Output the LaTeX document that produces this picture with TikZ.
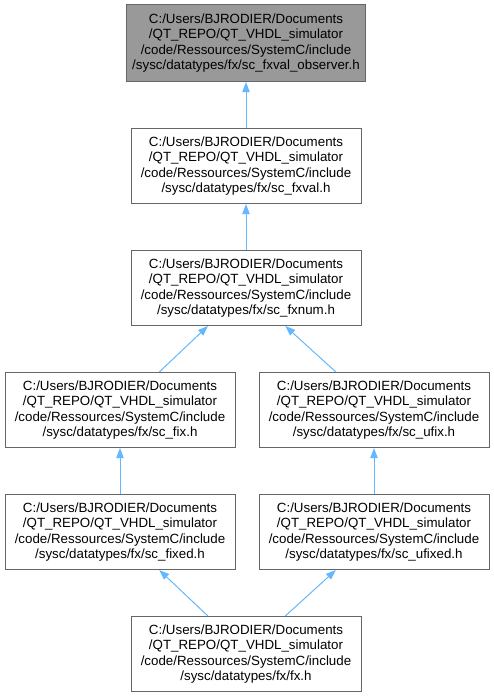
\documentclass[tikz,border=0pt]{standalone}
\usepackage{fontspec}
\setmainfont{Liberation Sans}
\usetikzlibrary{arrows.meta, positioning, calc}
\definecolor{doxyedge}{HTML}{63B8FF}
\definecolor{doxyborder}{HTML}{666666}
\definecolor{doxycur}{HTML}{999999}
\tikzset{
  filebox/.style={draw=doxyborder, fill=white, align=center, line width=0.75pt,
                  font=\fontsize{10}{11.5}\selectfont, inner xsep=4.5pt,
                  minimum width=172.5pt, minimum height=56.25pt},
  curbox/.style={filebox, fill=doxycur, minimum height=57.75pt},
  incl/.style={{Triangle[length=7.5pt, width=5.5pt]}-, line width=0.75pt, draw=doxyedge},
}

\begin{document}
\begin{tikzpicture}[node distance=34.5pt and 17.25pt]
  \useasboundingbox (0,0) rectangle (369.75pt,-524.25pt);
  \node[curbox] (obs) at (184.5pt,-32.25pt)
    {C:/Users/BJRODIER/Documents\\/QT\_REPO/QT\_VHDL\_simulator\\/code/Ressources/SystemC/include\\/sysc/datatypes/fx/sc\_fxval\_observer.h};
  \node[filebox, below=of obs] (fxval)
    {C:/Users/BJRODIER/Documents\\/QT\_REPO/QT\_VHDL\_simulator\\/code/Ressources/SystemC/include\\/sysc/datatypes/fx/sc\_fxval.h};
  \node[filebox, below=of fxval] (fxnum)
    {C:/Users/BJRODIER/Documents\\/QT\_REPO/QT\_VHDL\_simulator\\/code/Ressources/SystemC/include\\/sysc/datatypes/fx/sc\_fxnum.h};
  \node[filebox, below=of fxnum, xshift=-94.5pt] (fix)
    {C:/Users/BJRODIER/Documents\\/QT\_REPO/QT\_VHDL\_simulator\\/code/Ressources/SystemC/include\\/sysc/datatypes/fx/sc\_fix.h};
  \node[filebox, right=of fix] (ufix)
    {C:/Users/BJRODIER/Documents\\/QT\_REPO/QT\_VHDL\_simulator\\/code/Ressources/SystemC/include\\/sysc/datatypes/fx/sc\_ufix.h};
  \node[filebox, below=of fix] (fixed)
    {C:/Users/BJRODIER/Documents\\/QT\_REPO/QT\_VHDL\_simulator\\/code/Ressources/SystemC/include\\/sysc/datatypes/fx/sc\_fixed.h};
  \node[filebox, below=of ufix] (ufixed)
    {C:/Users/BJRODIER/Documents\\/QT\_REPO/QT\_VHDL\_simulator\\/code/Ressources/SystemC/include\\/sysc/datatypes/fx/sc\_ufixed.h};
  \node[filebox, below=of fixed, xshift=94.5pt] (fx)
    {C:/Users/BJRODIER/Documents\\/QT\_REPO/QT\_VHDL\_simulator\\/code/Ressources/SystemC/include\\/sysc/datatypes/fx/fx.h};

  \draw[incl] (obs) -- (fxval);
  \draw[incl] (fxval) -- (fxnum);
  \draw[incl] ($(fxnum.south west)!0.335!(fxnum.south east)$) -- ($(fix.north west)!0.67!(fix.north east)$);
  \draw[incl] ($(fxnum.south west)!0.67!(fxnum.south east)$) -- ($(ufix.north west)!0.335!(ufix.north east)$);
  \draw[incl] (fix) -- (fixed);
  \draw[incl] (ufix) -- (ufixed);
  \draw[incl] ($(fixed.south west)!0.67!(fixed.south east)$) -- ($(fx.north west)!0.335!(fx.north east)$);
  \draw[incl] ($(ufixed.south west)!0.335!(ufixed.south east)$) -- ($(fx.north west)!0.67!(fx.north east)$);
\end{tikzpicture}
\end{document}
